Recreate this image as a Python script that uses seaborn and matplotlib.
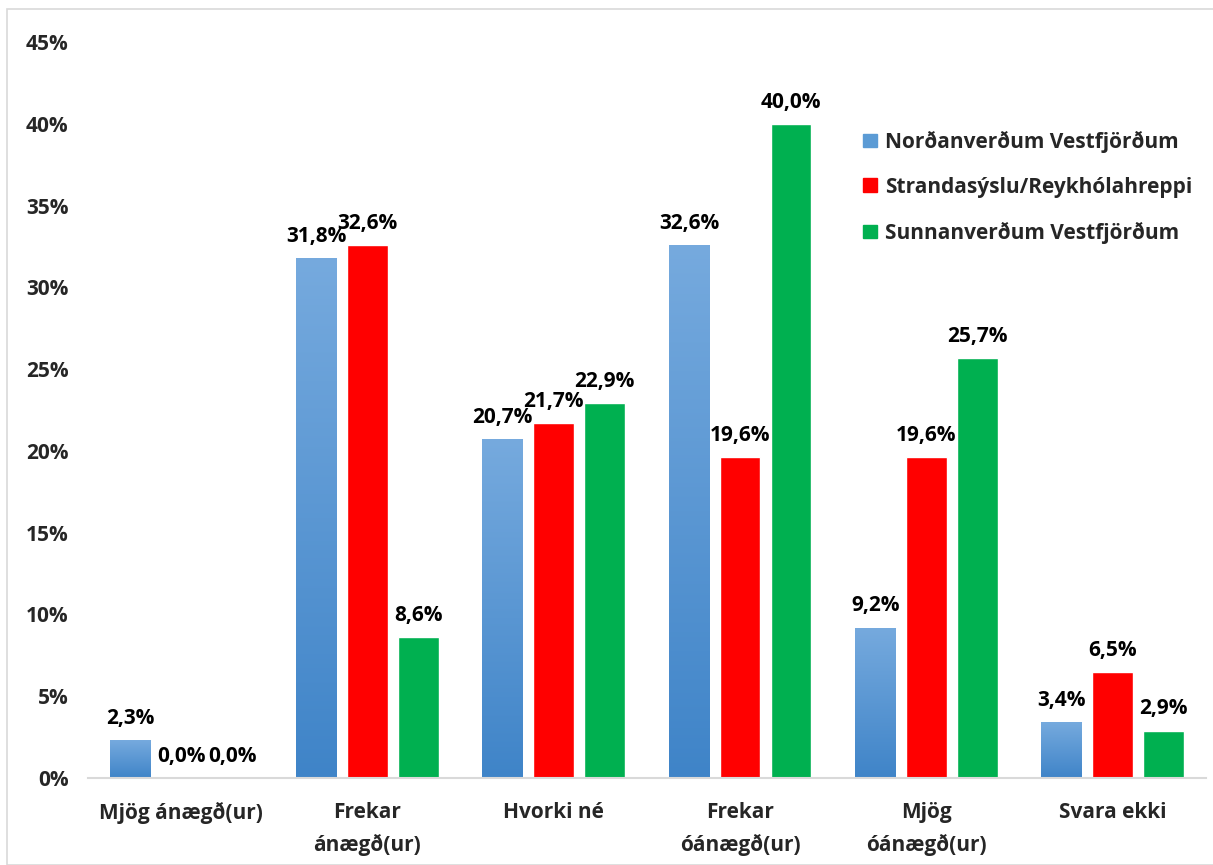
import matplotlib
matplotlib.use('Agg')
import matplotlib.pyplot as plt
import matplotlib.patches as mpatches
import numpy as np
import pandas as pd
import seaborn as sns

# Categories and series values (share of answers)
categories = ['Mjög ánægð(ur)', 'Frekar\nánægð(ur)', 'Hvorki né',
              'Frekar\nóánægð(ur)', 'Mjög\nóánægð(ur)', 'Svara ekki']
series = ['Norðanverðum Vestfjörðum', 'Strandasýslu/Reykhólahreppi', 'Sunnanverðum Vestfjörðum']
nordan = [2.3, 31.8, 20.7, 32.6, 9.2, 3.4]
stranda = [0.0, 32.6, 21.7, 19.6, 19.6, 6.5]
sunnan = [0.0, 8.6, 22.9, 40.0, 25.7, 2.9]
y_ticks = [0, 5, 10, 15, 20, 25, 30, 35, 40, 45]

colors = ['#5b9bd5', '#ff0000', '#00b050']
FS = 15

df = pd.DataFrame({
    'Flokkur': categories * 3,
    'Svæði': [series[0]] * 6 + [series[1]] * 6 + [series[2]] * 6,
    'Hlutfall': nordan + stranda + sunnan,
})

sns.set_style('white')
plt.rcParams['font.family'] = ['Open Sans', 'DejaVu Sans']
plt.rcParams['font.weight'] = 'bold'

fig = plt.figure(figsize=(12.13, 8.65), dpi=100)
ax = fig.add_axes([0.0725, 0.1006, 0.9215, 0.8508])

sns.barplot(data=df, x='Flokkur', y='Hlutfall', hue='Svæði', hue_order=series,
            palette=colors, width=0.82, gap=0.2, saturation=1, ax=ax)

# gradient fill on the blue bars (light top, darker bottom)
grad = np.linspace(0, 1, 256).reshape(-1, 1)
cmap = matplotlib.colors.LinearSegmentedColormap.from_list('b', ['#3f84c8', '#76aade'])
for bar in ax.containers[0]:
    x0, y0 = bar.get_x(), bar.get_y()
    w, h = bar.get_width(), bar.get_height()
    im = ax.imshow(grad, extent=(x0, x0 + w, y0, y0 + h), origin='lower',
                   cmap=cmap, aspect='auto', zorder=bar.get_zorder() + 0.1)
    im.set_clip_path(bar)

# value labels
for cont in ax.containers:
    ax.bar_label(cont, labels=[f'{b.get_height():.1f}%'.replace('.', ',') for b in cont],
                 padding=8, fontsize=FS, fontweight='bold', color='#000000')

ax.set_xlim(-0.5, 5.5)
ax.set_ylim(0, 45)
ax.set_yticks(y_ticks)
ax.set_yticklabels([f'{t}%' for t in y_ticks])
ax.set_xlabel('')
ax.set_ylabel('')
ax.tick_params(axis='y', length=0, pad=14, labelsize=FS)
ax.tick_params(axis='x', length=0, pad=17, labelsize=FS)
for lab in ax.get_xticklabels() + ax.get_yticklabels():
    lab.set_fontweight('bold')
    lab.set_linespacing(1.65)

for s in ['top', 'right', 'left']:
    ax.spines[s].set_visible(False)
ax.spines['bottom'].set_color('#d9d9d9')
ax.spines['bottom'].set_linewidth(1.5)

handles = [mpatches.Patch(color=c) for c in colors]
ax.legend(handles, series, loc='upper right', bbox_to_anchor=(1.005, 0.905),
          frameon=False, handlelength=0.65, handleheight=0.65,
          handletextpad=0.4, labelspacing=1.15, prop={'weight': 'bold', 'size': FS})

# light frame around the chart
fig.patches.append(mpatches.Rectangle((7 / 1213, 0), 1.1, 1 - 9 / 865, transform=fig.transFigure,
                                      fill=False, edgecolor='#d9d9d9', linewidth=1.2))

plt.savefig('out.png', dpi=100)
